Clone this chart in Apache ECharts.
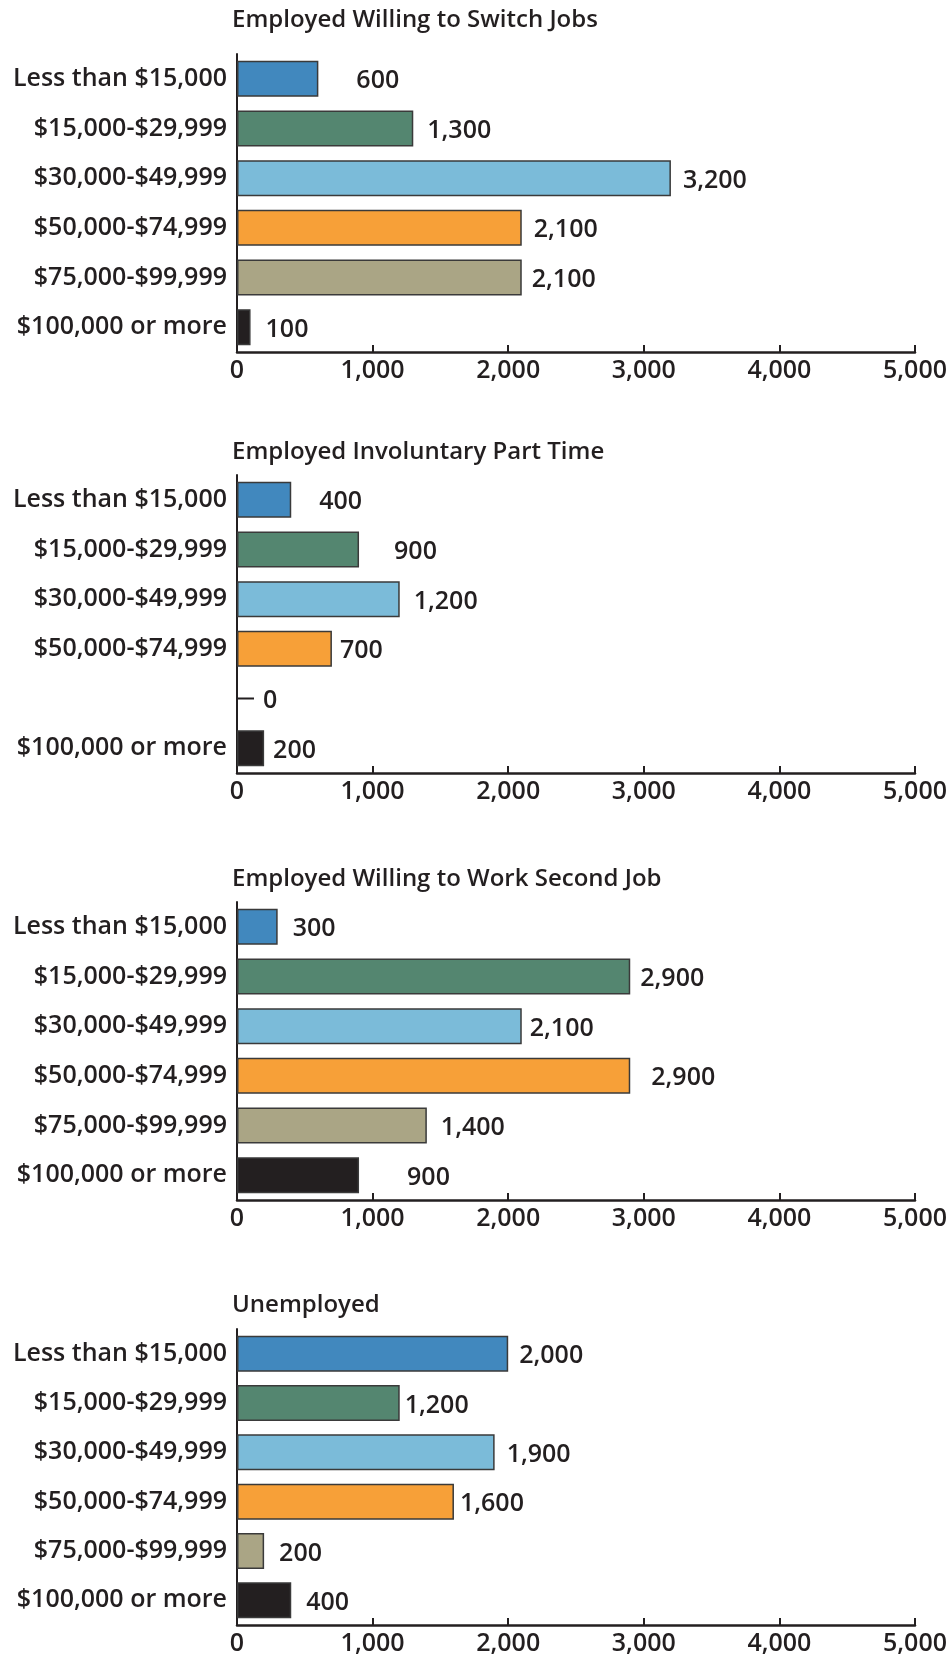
<!DOCTYPE html>
<html>
<head>
<meta charset="utf-8">
<script src="https://cdn.jsdelivr.net/npm/echarts@6/dist/echarts.min.js"></script>
<style>
html,body{margin:0;padding:0;background:#fff;}
#chart{width:952px;height:1656px;}
</style>
</head>
<body>
<div id="chart"></div>
<script>
// ---- Data ----
const categories = ["Less than $15,000", "$15,000-$29,999", "$30,000-$49,999", "$50,000-$74,999", "$75,000-$99,999", "$100,000 or more"];
const panelTitles = ["Employed Willing to Switch Jobs", "Employed Involuntary Part Time", "Employed Willing to Work Second Job", "Unemployed"];
const switchJobs = [600, 1300, 3200, 2100, 2100, 100];
const involuntaryPartTime = [400, 900, 1200, 700, 0, 200];
const secondJob = [300, 2900, 2100, 2900, 1400, 900];
const unemployed = [2000, 1200, 1900, 1600, 200, 400];
const xTicks = [0, 1000, 2000, 3000, 4000, 5000];

// ---- Styles ----
const barColors = ["#4188BE", "#548670", "#7BBBD9", "#F7A038", "#AAA585", "#231F20"];
const labelGap = [
  [38, 14, 12, 12, 10, 15],
  [28, 35, 14, 8, 0, 9],
  [15, 10, 8, 21, 14, 48],
  [11, 5, 12, 6, 15, 15]
];
const gridTops = [54, 475, 902, 1329];
const gridHeights = [298, 298, 298, 296];
const titleCenters = [20, 452, 879, 1305];
const FONT = '"Open Sans"';
const INK = '#231F20';

const panels = [switchJobs, involuntaryPartTime, secondJob, unemployed];
const fmt = v => Number(v).toLocaleString('en-US');

const option = {
  animation: false,
  backgroundColor: '#fff',
  title: panelTitles.map((t, i) => ({
    text: t, left: 232, top: titleCenters[i] - 14, padding: 0,
    textStyle: {fontFamily: FONT, fontWeight: 600, fontSize: 24, lineHeight: 28, color: INK}
  })),
  grid: panels.map((p, i) => ({left: 237, right: 37, top: gridTops[i], height: gridHeights[i]})),
  xAxis: panels.map((p, i) => ({
    type: 'value', gridIndex: i, min: xTicks[0], max: xTicks[xTicks.length - 1], interval: 1000,
    splitLine: {show: false},
    axisLine: {show: true, lineStyle: {color: INK, width: 2.5}},
    axisTick: {show: true, inside: true, length: 7, lineStyle: {color: INK, width: 2}},
    axisLabel: {fontFamily: FONT, fontWeight: 600, fontSize: 25, color: INK, margin: 6, formatter: fmt}
  })),
  yAxis: panels.map((p, i) => ({
    type: 'category', gridIndex: i, inverse: true, data: categories,
    axisLine: {show: true, lineStyle: {color: INK, width: 2}},
    axisTick: {show: false},
    axisLabel: {
      fontFamily: FONT, fontWeight: 600, fontSize: 25, color: INK, margin: 10,
      padding: [5, 0, 0, 0],
      formatter: (val, idx) => (p[idx] === 0 ? '' : val)
    }
  })),
  series: panels.map((p, i) => ({
    type: 'bar', xAxisIndex: i, yAxisIndex: i, barWidth: 36,
    data: p.map((v, k) => ({
      value: v,
      itemStyle: {color: barColors[k], borderColor: '#3a3a3a', borderWidth: v === 0 ? 0 : 1.5},
      label: {
        show: true, position: 'right', distance: labelGap[i][k],
        formatter: v === 0 ? '{ld|}{gap|}{v|0}' : '{v|' + fmt(v) + '}',
        rich: {
          ld: {width: 17, height: 2, backgroundColor: INK},
          gap: {width: 9},
          v: {fontFamily: FONT, fontWeight: 600, fontSize: 25, color: INK, padding: [5, 0, 0, 0]}
        }
      }
    }))
  }))
};

const chart = echarts.init(document.getElementById('chart'), null, {renderer: 'canvas'});
chart.setOption(option);
</script>
</body>
</html>
